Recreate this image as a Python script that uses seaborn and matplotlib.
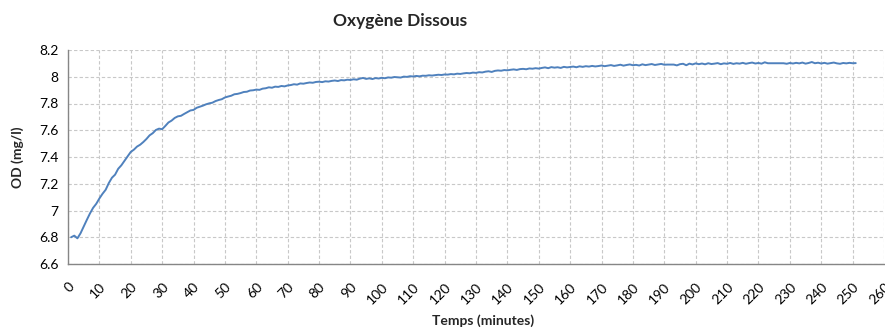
import matplotlib
matplotlib.use("Agg")
import matplotlib.pyplot as plt
import seaborn as sns
import pandas as pd

# Dissolved oxygen readings, one per minute
minutes = list(range(1, 252))
od_values = [
    6.800, 6.812, 6.792, 6.830, 6.880, 6.930, 6.978, 7.020, 7.050, 7.090,
    7.125, 7.155, 7.205, 7.245, 7.268, 7.312, 7.338, 7.372, 7.405, 7.438,
    7.455, 7.478, 7.492, 7.512, 7.535, 7.562, 7.578, 7.602, 7.612, 7.608,
    7.632, 7.658, 7.672, 7.692, 7.704, 7.708, 7.722, 7.735, 7.748, 7.752,
    7.768, 7.776, 7.784, 7.794, 7.801, 7.806, 7.818, 7.826, 7.832, 7.845,
    7.852, 7.858, 7.869, 7.872, 7.878, 7.886, 7.888, 7.897, 7.899, 7.904,
    7.902, 7.911, 7.914, 7.921, 7.918, 7.926, 7.924, 7.931, 7.928, 7.935,
    7.938, 7.944, 7.941, 7.950, 7.948, 7.953, 7.957, 7.955, 7.961, 7.963,
    7.960, 7.966, 7.964, 7.969, 7.972, 7.968, 7.975, 7.973, 7.978, 7.976,
    7.981, 7.978, 7.986, 7.991, 7.984, 7.988, 7.983, 7.990, 7.987, 7.992,
    7.989, 7.995, 7.993, 7.998, 7.996, 7.994, 8.001, 7.999, 8.004, 8.002,
    8.006, 8.003, 8.008, 8.007, 8.011, 8.009, 8.012, 8.015, 8.013, 8.017,
    8.016, 8.020, 8.018, 8.023, 8.021, 8.025, 8.028, 8.026, 8.031, 8.029,
    8.034, 8.032, 8.038, 8.041, 8.036, 8.044, 8.047, 8.045, 8.050, 8.048,
    8.052, 8.055, 8.051, 8.057, 8.059, 8.056, 8.062, 8.060, 8.064, 8.061,
    8.066, 8.070, 8.064, 8.072, 8.068, 8.071, 8.066, 8.074, 8.070, 8.073,
    8.076, 8.071, 8.078, 8.074, 8.079, 8.076, 8.081, 8.077, 8.080, 8.084,
    8.079, 8.083, 8.087, 8.081, 8.085, 8.090, 8.083, 8.088, 8.092, 8.086,
    8.089, 8.084, 8.093, 8.087, 8.091, 8.095, 8.088, 8.092, 8.096, 8.090,
    8.091, 8.091, 8.091, 8.085, 8.094, 8.097, 8.086, 8.098, 8.092, 8.100,
    8.094, 8.099, 8.093, 8.101, 8.095, 8.098, 8.102, 8.094, 8.100, 8.097,
    8.103, 8.096, 8.101, 8.098, 8.104, 8.097, 8.102, 8.106, 8.099, 8.103,
    8.098, 8.108, 8.101, 8.101, 8.101, 8.101, 8.101, 8.101, 8.097, 8.103,
    8.099, 8.104, 8.100, 8.106, 8.098, 8.103, 8.110, 8.101, 8.105, 8.099,
    8.104, 8.098, 8.102, 8.106, 8.100, 8.097, 8.103, 8.100, 8.104, 8.101,
    8.102,
]
x_ticks = list(range(0, 261, 10))
y_ticks = [6.6, 6.8, 7.0, 7.2, 7.4, 7.6, 7.8, 8.0, 8.2]
y_tick_labels = ["6.6", "6.8", "7", "7.2", "7.4", "7.6", "7.8", "8", "8.2"]

df = pd.DataFrame({"Temps": minutes, "OD": od_values})

sns.set_theme(style="white")
plt.rcParams["font.family"] = ["Lato", "DejaVu Sans"]

fig = plt.figure(figsize=(8.85, 3.29), dpi=100)
ax = fig.add_axes([68 / 885, 1 - 264 / 329, 816 / 885, 214 / 329])

sns.lineplot(data=df, x="Temps", y="OD", ax=ax, color="#4F81BD", linewidth=1.4)

ax.set_xlim(0, 260)
ax.set_ylim(6.6, 8.2)
ax.set_xticks(x_ticks)
ax.set_xticklabels([str(v) for v in x_ticks], rotation=45, ha="right",
                   rotation_mode="anchor", fontsize=10)
ax.set_yticks(y_ticks)
ax.set_yticklabels(y_tick_labels, fontsize=10)

ax.grid(True, color="#c8c8c8", linestyle=(0, (3, 2)), linewidth=0.8)
ax.set_axisbelow(True)
for side in ("top", "right"):
    ax.spines[side].set_visible(False)
for side in ("left", "bottom"):
    ax.spines[side].set_color("#868686")
    ax.spines[side].set_linewidth(1.0)
ax.tick_params(axis="both", which="major", length=4, width=0.8,
               color="#868686", direction="out", labelcolor="black", pad=3)
ax.tick_params(axis="x", pad=8)

ax.set_xlabel("")
ax.set_ylabel("")
fig.text(400 / 885, 1 - 21 / 329, "Oxygène Dissous", ha="center", va="center",
         fontsize=12.5, fontweight="bold")
fig.text(483 / 885, 1 - 321 / 329, "Temps (minutes)", ha="center", va="center",
         fontsize=10, fontweight="bold")
fig.text(18 / 885, 1 - 157 / 329, "OD (mg/l)", ha="center", va="center",
         rotation=90, fontsize=10, fontweight="bold")

fig.savefig("out.png", dpi=100)
